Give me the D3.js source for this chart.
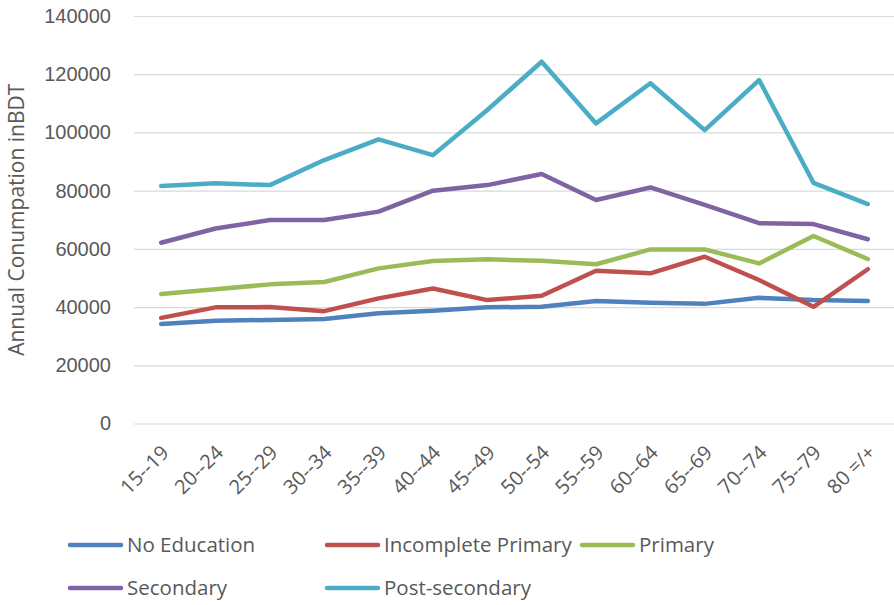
<!DOCTYPE html>
<html>
<head>
<meta charset="utf-8">
<script src="https://cdn.jsdelivr.net/npm/d3@7"></script>
<style>
  body { margin: 0; background: #fff; }
  svg { display: block; font-family: "Open Sans", sans-serif; }
  .tick text { fill: #595959; }
</style>
</head>
<body>
<svg id="chart" width="894" height="605"></svg>
<script>
var ageGroups = ["15--19", "20--24", "25--29", "30--34", "35--39", "40--44", "45--49",
  "50--54", "55--59", "60--64", "65--69", "70--74", "75--79", "80 =/+"];

var noEducation = [34200, 35300, 35600, 35900, 37900, 38700, 39900, 40100, 42100, 41500, 41100, 43200, 42400, 42100];
var incompletePrimary = [36300, 39900, 40000, 38600, 43000, 46400, 42400, 43900, 52500, 51600, 57300, 49300, 40100, 53000];
var primary = [44500, 46100, 47800, 48600, 53300, 55800, 56400, 55900, 54700, 59800, 59800, 55000, 64400, 56500];
var secondary = [62100, 67000, 69900, 69900, 72800, 80000, 81900, 85700, 76800, 81100, 75100, 68800, 68500, 63300];
var postSecondary = [81600, 82500, 81900, 90500, 97600, 92200, 107700, 124300, 103100, 116900, 100800, 118000, 82700, 75400];

var seriesNames = ["No Education", "Incomplete Primary", "Primary", "Secondary", "Post-secondary"];
var seriesColors = ["#4f81bd", "#c0504d", "#9bbb59", "#8064a2", "#4bacc6"];
var yTicks = [0, 20000, 40000, 60000, 80000, 100000, 120000, 140000];

var series = [noEducation, incompletePrimary, primary, secondary, postSecondary].map(function(v, i) {
  return { name: seriesNames[i], color: seriesColors[i], values: v };
});

var svg = d3.select("#chart");
var plotLeft = 134, plotRight = 895, plotTop = 16, plotBottom = 423.5;

var x = d3.scaleBand().domain(ageGroups).range([plotLeft, plotRight]);
var y = d3.scaleLinear().domain([0, 140000]).range([plotBottom, plotTop]);

// gridlines + y labels
var yAxis = svg.append("g")
  .attr("transform", "translate(" + plotLeft + ",0)")
  .call(d3.axisLeft(y).tickValues(yTicks).tickSize(-(plotRight - plotLeft)).tickPadding(23).tickFormat(d3.format("d")));
yAxis.select(".domain").remove();
yAxis.selectAll(".tick line").attr("stroke", "#d9d9d9").attr("stroke-width", 1.2);
yAxis.selectAll(".tick text").attr("font-size", 20);

// x labels
var xg = svg.append("g");
xg.selectAll("text")
  .data(ageGroups)
  .enter().append("text")
  .attr("transform", function(d) {
    return "translate(" + (x(d) + x.bandwidth() / 2 + 4) + ",449) rotate(-45)";
  })
  .attr("text-anchor", "end")
  .attr("dy", "0.35em")
  .attr("font-size", 20)
  .attr("fill", "#595959")
  .text(function(d) { return d; });

// y title
svg.append("text")
  .attr("transform", "translate(24," + ((plotTop + plotBottom) / 2) + ") rotate(-90)")
  .attr("text-anchor", "middle")
  .attr("font-size", 21)
  .attr("fill", "#595959")
  .text("Annual Conumpation inBDT");

var line = d3.line()
  .x(function(d, i) { return x(ageGroups[i]) + x.bandwidth() / 2; })
  .y(function(d) { return y(d); });

svg.append("g").selectAll("path")
  .data(series)
  .enter().append("path")
  .attr("d", function(s) { return line(s.values); })
  .attr("fill", "none")
  .attr("stroke", function(s) { return s.color; })
  .attr("stroke-width", 4.5)
  .attr("stroke-linejoin", "round")
  .attr("stroke-linecap", "round");

// legend
var legendX = [68, 325, 580];
var legendY = [545, 588];
var lg = svg.append("g").selectAll("g")
  .data(series)
  .enter().append("g")
  .attr("transform", function(s, i) {
    return "translate(" + legendX[i % 3] + "," + legendY[Math.floor(i / 3)] + ")";
  });
lg.append("line")
  .attr("x1", 2).attr("x2", 53)
  .attr("stroke", function(s) { return s.color; })
  .attr("stroke-width", 4.5)
  .attr("stroke-linecap", "round");
lg.append("text")
  .attr("x", 59)
  .attr("dy", "0.35em")
  .attr("font-size", 20.5)
  .attr("fill", "#595959")
  .text(function(s) { return s.name; });
</script>
</body>
</html>
